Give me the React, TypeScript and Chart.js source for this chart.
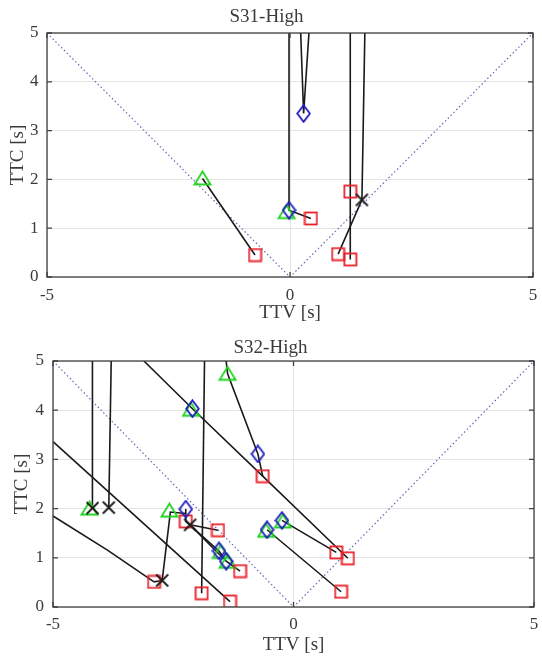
import { useEffect, useRef } from "react";
import { Chart, registerables } from "chart.js";

Chart.register(...registerables);

type P = [number, number];

// ---------- shared axis values ----------
const xTickValues = [-5, 0, 5];
const yTickValues = [0, 1, 2, 3, 4, 5];
const diagonal: P[] = [[-5, 5], [0, 0], [5, 5]];
const xAxisTitle = "TTV [s]";
const yAxisTitle = "TTC [s]";

// ---------- S31-High ----------
const s31Title = "S31-High";
const s31Paths: P[][] = [
  [[-1.8, 2.02], [-0.72, 0.45]],
  [[-0.02, 5], [-0.02, 1.37], [0.43, 1.2]],
  [[0.22, 5], [0.28, 3.35], [0.39, 5]],
  [[1.24, 5], [1.24, 1.75], [1.24, 0.36]],
  [[1.54, 5], [1.48, 1.58], [0.99, 0.47]],
];
const s31Squares: P[] = [[-0.72, 0.45], [0.43, 1.2], [1.24, 1.75], [1.24, 0.36], [0.99, 0.47]];
const s31Diamonds: P[] = [[-0.02, 1.37], [0.28, 3.35]];
const s31Triangles: P[] = [[-1.8, 2.02], [-0.07, 1.33]];
const s31Crosses: P[] = [[1.48, 1.58]];

// ---------- S32-High ----------
const s32Title = "S32-High";
const s32Paths: P[][] = [
  [[-4.18, 5], [-4.18, 2.01]],
  [[-3.79, 5], [-3.84, 2.02]],
  [[-1.85, 5], [-1.91, 0.28]],
  [[-5, 3.36], [-1.32, 0.11]],
  [[-5, 1.85], [-3.86, 1.15], [-2.9, 0.51]],
  [[-2.9, 0.51], [-2.73, 0.54], [-2.56, 1.93], [-2.24, 1.9]],
  [[-3.11, 5], [-2.1, 4.03], [-0.64, 2.66], [1.13, 0.99]],
  [[-1.4, 5], [-1.37, 4.74], [-0.74, 3.11], [-0.64, 2.66]],
  [[-0.24, 1.76], [0.89, 1.11]],
  [[-0.55, 1.57], [0.99, 0.31]],
  [[-2.24, 1.99], [-2.24, 1.74], [-1.55, 1.14], [-1.4, 0.93], [-1.11, 0.73]],
  [[-2.15, 1.67], [-1.57, 1.56]],
  [[-2.15, 1.67], [-1.45, 0.98]],
];
const s32Squares: P[] = [
  [-0.64, 2.66], [0.89, 1.11], [1.13, 0.99], [0.99, 0.31], [-1.57, 1.56],
  [-2.24, 1.74], [-1.11, 0.73], [-1.32, 0.11], [-1.91, 0.28], [-2.9, 0.51],
];
const s32Diamonds: P[] = [
  [-2.1, 4.03], [-0.74, 3.11], [-2.24, 1.99], [-0.24, 1.76],
  [-0.55, 1.57], [-1.55, 1.14], [-1.4, 0.93],
];
const s32Triangles: P[] = [
  [-1.37, 4.74], [-2.58, 1.96], [-4.24, 2.0], [-2.13, 4.01],
  [-0.57, 1.55], [-0.22, 1.74], [-1.37, 0.92], [-1.51, 1.12],
];
const s32Crosses: P[] = [[-4.18, 2.01], [-3.84, 2.02], [-2.73, 0.54], [-2.15, 1.67]];

// ---------- styling ----------
const FONT = "'Liberation Serif', 'Times New Roman', serif";
const TEXT = "#3a3a3a";
const LINE = "#1a1a1a";

function makeMarker(w: number, h: number, draw: (ctx: CanvasRenderingContext2D) => void) {
  const c = document.createElement("canvas");
  c.width = w;
  c.height = h;
  const ctx = c.getContext("2d")!;
  ctx.lineWidth = 1.8;
  ctx.lineJoin = "miter";
  draw(ctx);
  return c;
}

function buildMarkers() {
  return {
    square: makeMarker(15, 15, (ctx) => {
      ctx.strokeStyle = "#e8202a";
      ctx.strokeRect(1.5, 1.5, 12, 12);
    }),
    diamond: makeMarker(15, 19, (ctx) => {
      ctx.strokeStyle = "#1c1cc0";
      ctx.beginPath();
      ctx.moveTo(7.5, 1.2);
      ctx.lineTo(13.8, 9.5);
      ctx.lineTo(7.5, 17.8);
      ctx.lineTo(1.2, 9.5);
      ctx.closePath();
      ctx.stroke();
    }),
    triangle: makeMarker(19, 17, (ctx) => {
      ctx.strokeStyle = "#22d422";
      ctx.beginPath();
      ctx.moveTo(9.5, 1.5);
      ctx.lineTo(17.5, 14.5);
      ctx.lineTo(1.5, 14.5);
      ctx.closePath();
      ctx.stroke();
    }),
    cross: makeMarker(15, 15, (ctx) => {
      ctx.strokeStyle = "#1a1a1a";
      ctx.beginPath();
      ctx.moveTo(1.5, 1.5);
      ctx.lineTo(13.5, 13.5);
      ctx.moveTo(13.5, 1.5);
      ctx.lineTo(1.5, 13.5);
      ctx.stroke();
    }),
  };
}

const framePlugin = {
  id: "frame",
  afterDatasetsDraw(chart: any) {
    const { ctx, chartArea: a, scales } = chart;
    ctx.save();
    ctx.strokeStyle = "#404040";
    ctx.lineWidth = 1.3;
    ctx.strokeRect(a.left, a.top, a.right - a.left, a.bottom - a.top);
    ctx.beginPath();
    const tl = 5;
    for (const v of yTickValues) {
      const py = scales.y.getPixelForValue(v);
      ctx.moveTo(a.left, py);
      ctx.lineTo(a.left + tl, py);
      ctx.moveTo(a.right, py);
      ctx.lineTo(a.right - tl, py);
    }
    for (const v of xTickValues) {
      const px = scales.x.getPixelForValue(v);
      ctx.moveTo(px, a.bottom);
      ctx.lineTo(px, a.bottom - tl);
      ctx.moveTo(px, a.top);
      ctx.lineTo(px, a.top + tl);
    }
    ctx.stroke();
    ctx.restore();
  },
};

interface Layout {
  titlePad: [number, number];
  yWidth: number;
  yTitlePad: number;
  yTickPad: number;
  xHeight: number;
  xTickPad: number;
  xTitlePad: number;
  rightPad: number;
}

function buildConfig(
  title: string,
  paths: P[][],
  squares: P[],
  diamonds: P[],
  triangles: P[],
  crosses: P[],
  lay: Layout,
  markers: ReturnType<typeof buildMarkers>
): any {
  const xy = (arr: P[]) => arr.map(([x, y]) => ({ x, y }));
  const markerSet = (data: P[], style: HTMLCanvasElement, order: number) => ({
    data: xy(data),
    showLine: false,
    pointStyle: style,
    pointRadius: 7,
    pointHoverRadius: 7,
    order,
  });
  const datasets: any[] = [
    markerSet(crosses, markers.cross, 0),
    markerSet(diamonds, markers.diamond, 1),
    markerSet(squares, markers.square, 2),
    markerSet(triangles, markers.triangle, 3),
    ...paths.map((p) => ({
      data: xy(p),
      showLine: true,
      borderColor: LINE,
      borderWidth: 1.6,
      pointRadius: 0,
      pointHoverRadius: 0,
      order: 10,
    })),
    {
      data: xy(diagonal),
      showLine: true,
      borderColor: "rgba(80,90,175,0.9)",
      borderWidth: 1.2,
      borderDash: [1.5, 2.5],
      pointRadius: 0,
      pointHoverRadius: 0,
      order: 20,
    },
  ];
  const tickFont = { family: FONT, size: 17 };
  const labelFont = { family: FONT, size: 19 };
  return {
    type: "scatter",
    data: { datasets },
    options: {
      responsive: false,
      maintainAspectRatio: false,
      animation: false,
      events: [],
      layout: { padding: { left: 0, top: 0, bottom: 0, right: lay.rightPad } },
      plugins: {
        legend: { display: false },
        tooltip: { enabled: false },
        title: {
          display: true,
          text: title,
          color: TEXT,
          font: { family: FONT, size: 19, weight: "normal" },
          padding: { top: lay.titlePad[0], bottom: lay.titlePad[1] },
        },
      },
      scales: {
        x: {
          type: "linear",
          min: -5,
          max: 5,
          afterBuildTicks: (s: any) => {
            s.ticks = xTickValues.map((v) => ({ value: v }));
          },
          ticks: { font: tickFont, color: TEXT, padding: lay.xTickPad, maxRotation: 0, autoSkip: false },
          grid: { color: "#e4e4e4", drawTicks: false, lineWidth: 1 },
          border: { display: false },
          title: {
            display: true,
            text: xAxisTitle,
            color: TEXT,
            font: labelFont,
            padding: { top: 0, bottom: lay.xTitlePad },
          },
          afterFit: (s: any) => {
            s.height = lay.xHeight;
            s.paddingLeft = 0;
            s.paddingRight = 0;
            s.paddingTop = 0;
            s.paddingBottom = 0;
          },
        },
        y: {
          type: "linear",
          min: 0,
          max: 5,
          afterBuildTicks: (s: any) => {
            s.ticks = yTickValues.map((v) => ({ value: v }));
          },
          ticks: { font: tickFont, color: TEXT, padding: lay.yTickPad, autoSkip: false },
          grid: { color: "#e4e4e4", drawTicks: false, lineWidth: 1 },
          border: { display: false },
          title: {
            display: true,
            text: yAxisTitle,
            color: TEXT,
            font: labelFont,
            padding: { top: lay.yTitlePad, bottom: 0 },
          },
          afterFit: (s: any) => {
            s.width = lay.yWidth;
            s.paddingLeft = 0;
            s.paddingRight = 0;
            s.paddingTop = 0;
            s.paddingBottom = 0;
          },
        },
      },
    },
    plugins: [framePlugin],
  };
}

export default function App() {
  const ref1 = useRef<HTMLCanvasElement>(null);
  const ref2 = useRef<HTMLCanvasElement>(null);

  useEffect(() => {
    const markers = buildMarkers();
    const c1 = new Chart(
      ref1.current!,
      buildConfig(s31Title, s31Paths, s31Squares, s31Diamonds, s31Triangles, s31Crosses, {
        titlePad: [5.6, 4.6],
        yWidth: 47,
        yTitlePad: 6.6,
        yTickPad: 8.5,
        xHeight: 53,
        xTickPad: 8,
        xTitlePad: 5.6,
        rightPad: 9,
      }, markers)
    );
    const c2 = new Chart(
      ref2.current!,
      buildConfig(s32Title, s32Paths, s32Squares, s32Diamonds, s32Triangles, s32Crosses, {
        titlePad: [6.6, 1.6],
        yWidth: 53,
        yTitlePad: 11,
        yTickPad: 9,
        xHeight: 51,
        xTickPad: 7.8,
        xTitlePad: 1.6,
        rightPad: 1,
      }, markers)
    );
    return () => {
      c1.destroy();
      c2.destroy();
    };
  }, []);

  return (
    <div style={{ position: "absolute", left: 0, top: 0, width: 542, height: 658, background: "#fff" }}>
      <canvas ref={ref1} width={542} height={330} style={{ position: "absolute", left: 0, top: 0 }} />
      <canvas ref={ref2} width={542} height={328} style={{ position: "absolute", left: 0, top: 330 }} />
    </div>
  );
}
